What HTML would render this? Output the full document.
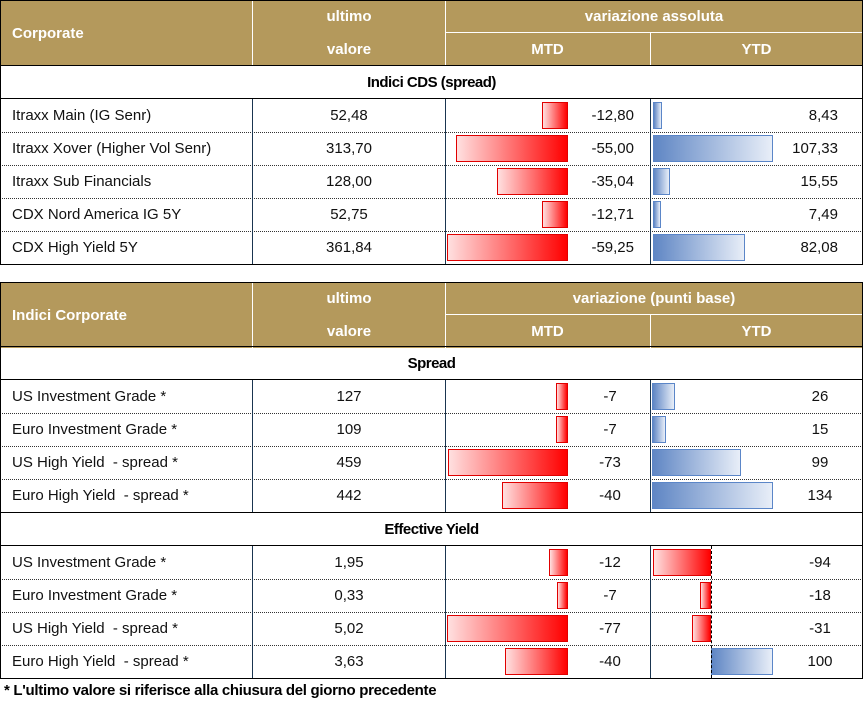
<!DOCTYPE html>
<html><head><meta charset="utf-8"><style>
body{margin:0;width:863px;height:711px;background:#fff;position:relative;overflow:hidden;font-family:"Liberation Sans",sans-serif;}
div{position:absolute;box-sizing:border-box;}
.gold{background:#b4995c;}
.ht{color:#fff;font-weight:bold;font-size:15px;display:flex;align-items:center;}
.c{justify-content:center;text-align:center;}
.t{font-size:15px;color:#111;display:flex;align-items:center;white-space:pre;}
.sec{font-weight:bold;font-size:15px;color:#000;letter-spacing:-0.5px;display:flex;align-items:center;justify-content:center;}
.neg{background:linear-gradient(to right,#ffe0e0,#ff0000);border:1px solid #e00000;}
.pos{background:linear-gradient(to right,#5f86c4,#e8eef8);border:1px solid #5b86c8;}
</style></head><body>
<div id="root" style="left:0;top:0;width:863px;height:711px"></div>
<div style="left:4px;top:682px;font-size:15px;font-weight:bold;letter-spacing:-0.3px">* L'ultimo valore si riferisce alla chiusura del giorno precedente</div>
<script>
const t1Labels=["Itraxx Main (IG Senr)","Itraxx Xover (Higher Vol Senr)","Itraxx Sub Financials","CDX Nord America IG 5Y","CDX High Yield 5Y"];
const t1Values=["52,48","313,70","128,00","52,75","361,84"];
const t1Mtd=[-12.80,-55.00,-35.04,-12.71,-59.25];
const t1Ytd=[8.43,107.33,15.55,7.49,82.08];
const t2Labels=["US Investment Grade *","Euro Investment Grade *","US High Yield  - spread *","Euro High Yield  - spread *"];
const t2SpreadValues=["127","109","459","442"];
const t2SpreadMtd=[-7,-7,-73,-40];
const t2SpreadYtd=[26,15,99,134];
const t2YieldValues=["1,95","0,33","5,02","3,63"];
const t2YieldMtd=[-12,-7,-77,-40];
const t2YieldYtd=[-94,-18,-31,100];
const root=document.getElementById('root');
function mk(cls,x,y,w,h,txt,style){const d=document.createElement('div');if(cls)d.className=cls;d.style.left=x+'px';d.style.top=y+'px';d.style.width=w+'px';d.style.height=h+'px';if(style)d.style.cssText+=style;if(txt!==undefined)d.textContent=txt;root.appendChild(d);return d;}
function fmt(v,dec){return dec?v.toFixed(2).replace('.',','):String(v);}
function bar(v,zero,scale,y){const w=Math.abs(v)*scale;const x=v<0?zero-w:zero;const b=mk(v<0?'neg':'pos',x,y+3,Math.max(w,3),27);return b;}
function header(y,title,sub){
  let e=mk('gold',0,y,863,66);
  e=mk('ht',12,y,240,66,title);
  e=mk('ht c',253,y,192,33,'ultimo');
  e=mk('ht c',253,y+33,192,33,'valore');
  e=mk('ht c',445,y,418,33,sub);
  e=mk('ht c',445,y+33,205,33,'MTD');
  e=mk('ht c',650,y+33,213,33,'YTD');
  mk('',252,y,1,66,undefined,'background:#fff');mk('',445,y,1,66,undefined,'background:#fff');
  mk('',650,y+33,1,33,undefined,'background:#fff');mk('',445,y+32,418,1,undefined,'background:#fff');
}
function section(y,txt){let e=mk('sec',0,y,863,34,txt,'border-top:1.5px solid #000;border-bottom:1.5px solid #000');}
function rows(y0,labels,vals,mtd,ytd,dec,mz,ms,yz,ys,mtdX,ytdX,valAlign,dotZero){
  for(let i=0;i<labels.length;i++){const y=y0+i*33;
    if(i<labels.length-1)mk('',0,y+33,863,1,undefined,'border-top:1px dotted #333');
    let e=mk('t',12,y,240,33,labels[i]);
    e=mk('t c',253,y,192,33,vals[i],'justify-content:center');
    e=bar(mtd[i],mz,ms,y);
    e=mk('t',mtdX-60,y,60,33,fmt(mtd[i],dec),'justify-content:'+valAlign);
    e=bar(ytd[i],yz,ys,y);
    e=mk('t',ytdX-60,y,60,33,fmt(ytd[i],dec),'justify-content:'+valAlign);
  }
  const h=labels.length*33;
  mk('',252,y0,1,h,undefined,'background:#1a3550');mk('',445,y0,1,h,undefined,'background:#1a3550');mk('',650,y0,1,h,undefined,'background:#1a3550');
  if(dotZero)mk('',yz,y0,1,h,undefined,'border-left:1px dashed #000');
}
header(0,'Corporate','variazione assoluta');
section(65,'Indici CDS (spread)');
rows(99,t1Labels,t1Values,t1Mtd,t1Ytd,true,568,2.04,653,1.12,634,838,'flex-end');
mk('',0,0,863,265,undefined,'border:1.5px solid #000');
header(282,'Indici Corporate','variazione (punti base)');
section(346,'Spread');
rows(380,t2Labels,t2SpreadValues,t2SpreadMtd,t2SpreadYtd,false,568,1.65,652,0.90,640,850,'center');
section(512,'Effective Yield');
rows(546,t2Labels,t2YieldValues,t2YieldMtd,t2YieldYtd,false,568,1.57,711,0.62,640,850,'center',true);
mk('',0,282,863,397,undefined,'border:1.5px solid #000');
</script>
</body></html>
